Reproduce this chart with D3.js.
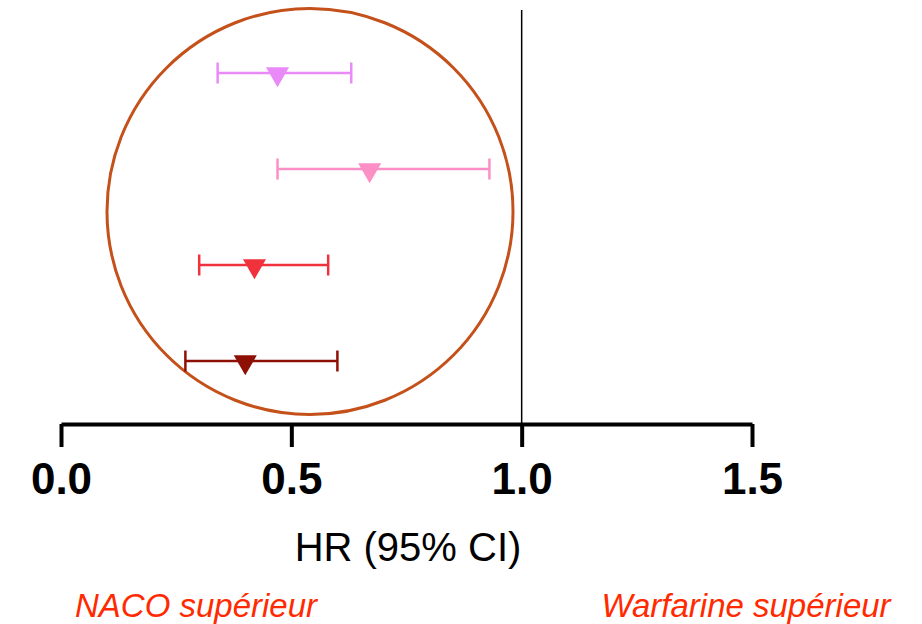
<!DOCTYPE html>
<html>
<head>
<meta charset="utf-8">
<script src="https://cdn.jsdelivr.net/npm/d3@7"></script>
<style>
  body { margin: 0; background: #fff; }
  svg { display: block; font-family: "Liberation Sans", Arial, sans-serif; }
</style>
</head>
<body>
<svg id="forest"></svg>
<script>
// rows, top to bottom
var groups = ["g1", "g2", "g3", "g4"];
var hr    = [0.47, 0.67, 0.42, 0.40];
var lower = [0.34, 0.47, 0.30, 0.27];
var upper = [0.63, 0.93, 0.58, 0.60];
var colors = ["#e98af8", "#fc8fc6", "#f0323c", "#8e1004"];
var tickVals = [0, 0.5, 1.0, 1.5];

var width = 922, height = 624;
var axisY = 424;

var svg = d3.select("#forest")
    .attr("width", width)
    .attr("height", height);

var x = d3.scaleLinear()
    .domain([0, 1.5])
    .range([61, 752]);

var y = d3.scalePoint()
    .domain(groups)
    .range([73, 361]);

// circle highlighting the NACO side
svg.append("circle")
    .attr("cx", 310)
    .attr("cy", 211.5)
    .attr("r", 203)
    .attr("fill", "none")
    .attr("stroke", "#c4501a")
    .attr("stroke-width", 3);

// line of no effect
svg.append("line")
    .attr("x1", x(1)).attr("x2", x(1))
    .attr("y1", 10).attr("y2", axisY)
    .attr("stroke", "#000")
    .attr("stroke-width", 1.5);

var rows = groups.map(function(g, i) {
  return {g: g, hr: hr[i], lo: lower[i], hi: upper[i], c: colors[i]};
});

var row = svg.append("g").selectAll("g")
    .data(rows)
    .enter().append("g");

row.append("line")
    .attr("x1", d => x(d.lo)).attr("x2", d => x(d.hi))
    .attr("y1", d => y(d.g)).attr("y2", d => y(d.g))
    .attr("stroke", d => d.c)
    .attr("stroke-width", 2.5);

row.selectAll(".cap")
    .data(d => [{v: d.lo, d: d}, {v: d.hi, d: d}])
    .enter().append("line")
    .attr("class", "cap")
    .attr("x1", e => x(e.v)).attr("x2", e => x(e.v))
    .attr("y1", e => y(e.d.g) - 10.5).attr("y2", e => y(e.d.g) + 10.5)
    .attr("stroke", e => e.d.c)
    .attr("stroke-width", 2.5);

row.append("path")
    .attr("d", d3.symbol().type(d3.symbolTriangle).size(230))
    .attr("transform", d => `translate(${x(d.hr)}, ${y(d.g) + 1}) rotate(180)`)
    .attr("fill", d => d.c);

// x axis
var ax = svg.append("g")
    .attr("transform", `translate(0, ${axisY})`)
    .call(d3.axisBottom(x)
      .tickValues(tickVals)
      .tickFormat(d3.format(".1f"))
      .tickSize(23)
      .tickSizeOuter(0)
      .tickPadding(16));

ax.select(".domain").attr("stroke-width", 4).attr("stroke", "#000");
ax.selectAll(".tick line").attr("stroke-width", 4).attr("stroke", "#000");
ax.selectAll(".tick text")
    .attr("font-size", 44)
    .attr("font-weight", "bold")
    .attr("fill", "#000")
    .attr("font-family", "'Liberation Sans', Arial, sans-serif");

svg.append("text")
    .attr("x", 408)
    .attr("y", 561)
    .attr("text-anchor", "middle")
    .attr("font-size", 40)
    .attr("fill", "#000")
    .text("HR (95% CI)");

svg.append("text")
    .attr("x", 196)
    .attr("y", 617)
    .attr("text-anchor", "middle")
    .attr("font-size", 33)
    .attr("font-style", "italic")
    .attr("fill", "#ff2a00")
    .text("NACO supérieur");

svg.append("text")
    .attr("x", 746)
    .attr("y", 617)
    .attr("text-anchor", "middle")
    .attr("font-size", 33)
    .attr("font-style", "italic")
    .attr("fill", "#ff2a00")
    .text("Warfarine supérieur");
</script>
</body>
</html>
